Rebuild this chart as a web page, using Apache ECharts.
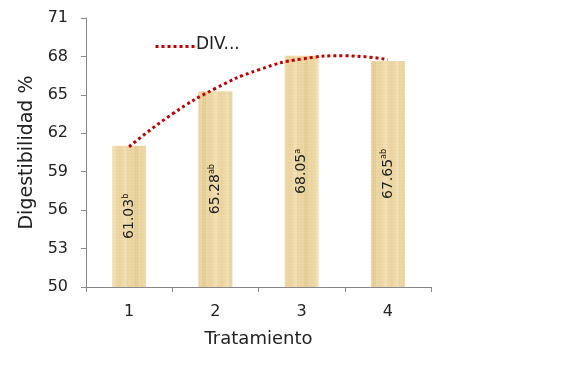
<!DOCTYPE html>
<html><head><meta charset="utf-8">
<script src="https://cdn.jsdelivr.net/npm/echarts@6/dist/echarts.min.js"></script>
<style>html,body{margin:0;padding:0;background:#fff}#c{width:576px;height:368px}</style>
</head><body><div id="c"></div>
<script>
const categories = ['1','2','3','4'];
const values = [61.03, 65.28, 68.05, 67.65];
const letters = ['b','ab','a','ab'];
// trendline values (x position, value)
const trendX = [1, 1.5, 2, 2.5, 3, 3.5, 4];
const trendY = [60.95, 63.5, 65.5, 66.95, 67.8, 68.05, 67.75];

function makePattern(){
  const c = document.createElement('canvas');
  c.width = 34; c.height = 24;
  const g = c.getContext('2d');
  g.fillStyle = '#EDD8A5'; g.fillRect(0,0,34,24);
  g.fillStyle = 'rgba(205,170,100,0.14)';
  g.fillRect(0,0,2,24); g.fillRect(32,0,2,24);
  g.fillStyle = 'rgba(205,170,100,0.08)';
  for (let i=0;i<24;i+=3){ g.fillRect(0,i,34,1); }
  for (let i=1;i<34;i+=4){ g.fillRect(i,0,1,24); }
  g.fillStyle = 'rgba(255,248,225,0.25)';
  g.fillRect(9,0,5,24); g.fillRect(21,0,4,24);
  return c;
}

const chart = echarts.init(document.getElementById('c'));
const FONT = 'DejaVu Sans';
chart.setOption({
  animation:false,
  grid:{left:86,right:145,top:18,bottom:81,containLabel:false},
  legend:{show:false},
  graphic:[
    {type:'line', left:153, top:44, shape:{x1:0,y1:0,x2:41,y2:0},
     style:{stroke:'#C00000',lineWidth:3,lineDash:[3,3]}},
    {type:'text', left:196, top:36,
     style:{text:'DIV...',fontFamily:FONT,fontSize:17,fill:'#222'}}
  ],
  xAxis:[{
    type:'category', data:categories,
    axisLine:{lineStyle:{color:'#888'}},
    axisTick:{show:true,alignWithLabel:false,length:5,lineStyle:{color:'#888'}},
    axisLabel:{fontFamily:FONT,fontSize:16,color:'#222',margin:17},
    name:'Tratamiento', nameLocation:'middle', nameGap:43,
    nameTextStyle:{fontFamily:FONT,fontSize:18,color:'#222'}
  },{
    type:'value', min:0.5, max:4.5, show:false
  }],
  yAxis:{
    type:'value', min:50, max:71, interval:3,
    axisLine:{show:true,lineStyle:{color:'#888'}},
    axisTick:{show:true,length:5,lineStyle:{color:'#888'}},
    splitLine:{show:false},
    axisLabel:{fontFamily:FONT,fontSize:16,color:'#222',margin:18},
    name:'Digestibilidad %', nameLocation:'middle', nameGap:44,
    nameTextStyle:{fontFamily:FONT,fontSize:19,color:'#222'}
  },
  series:[{
    type:'bar', barWidth:34, xAxisIndex:0,
    data:values,
    itemStyle:{color:{image:makePattern(),repeat:'repeat'}},
    label:{
      show:true, position:'inside', rotate:90,
      formatter:p=>'{n|'+p.value.toFixed(2)+'}{s|'+letters[p.dataIndex]+'}',
      rich:{
        n:{fontFamily:FONT,fontSize:14,color:'#222'},
        s:{fontFamily:FONT,fontSize:8,color:'#222',verticalAlign:'top',padding:[0,0,7,0]}
      }
    },
    z:1
  },{
    name:'DIV...', type:'line', xAxisIndex:1, smooth:true, symbol:'none',
    data:trendX.map((x,i)=>[x,trendY[i]]),
    label:{show:false},
    lineStyle:{color:'#C00000',width:3,type:[3,3]},
    itemStyle:{color:'#C00000'},
    z:3
  }]
});
</script></body></html>
